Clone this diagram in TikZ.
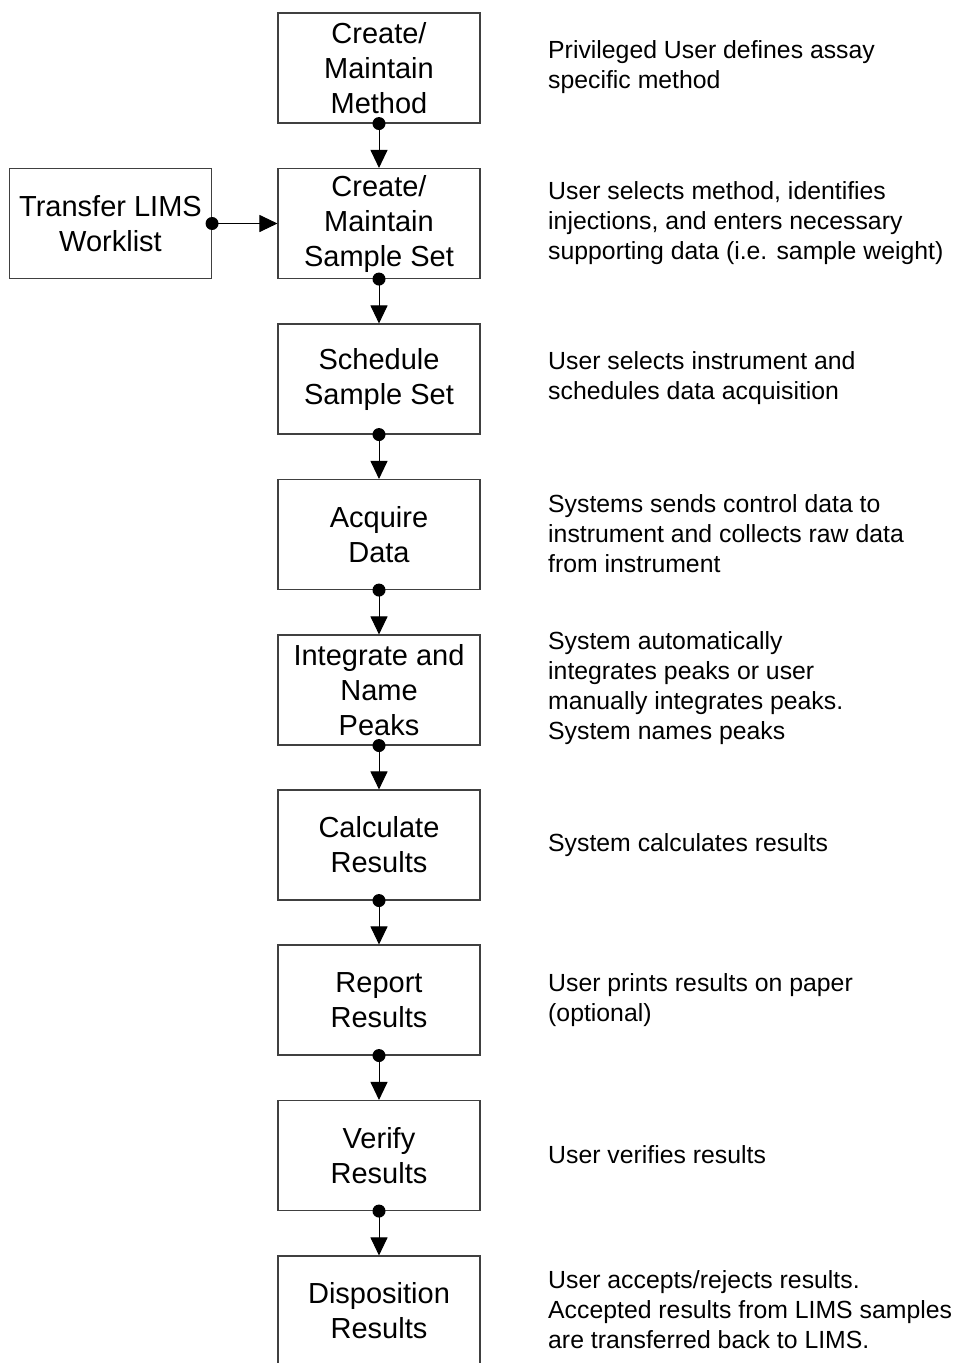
\documentclass[tikz,border=0pt]{standalone}
\usepackage{fontspec}
\setmainfont{Liberation Sans}
\usetikzlibrary{arrows.meta}
\begin{document}
\begin{tikzpicture}[x=1pt,y=-1pt,
  stepbox/.style={draw=black!75,line width=1.1pt,minimum width=202pt,minimum height=110pt,inner sep=0pt,align=center,font=\fontsize{29}{35}\selectfont},
  desc/.style={anchor=west,align=left,inner sep=0pt,font=\fontsize{24.8}{30}\selectfont},
  conn/.style={line width=1pt,-{Triangle[length=18pt,width=17pt]}},
  dotc/.style={fill=black}]
\useasboundingbox (0,0) rectangle (961,1363);
\clip (0,0) rectangle (961,1363);
\node[stepbox] (m1) at (379,68) {Create/\\Maintain\\Method};
\node[stepbox] (m2) at (379,223.5) {Create/\\Maintain\\Sample Set};
\node[stepbox] (m3) at (379,379) {Schedule\\Sample Set};
\node[stepbox] (m4) at (379,534.5) {Acquire\\Data};
\node[stepbox] (m5) at (379,690) {Integrate and\\Name\\Peaks};
\node[stepbox] (m6) at (379,845) {Calculate\\Results};
\node[stepbox] (m7) at (379,1000) {Report\\Results};
\node[stepbox] (m8) at (379,1155.5) {Verify\\Results};
\node[stepbox] (m9) at (379,1311) {Disposition\\Results};
\node[stepbox] (lims) at (110.5,223.5) {Transfer LIMS\\Worklist};

\node[desc] (d1) at (548,67) {Privileged User defines assay\\specific method};
\node[desc] (d2) at (548,223) {User selects method, identifies\\injections, and enters necessary\\supporting data (i.e. sample weight)};
\node[desc] (d3) at (548,378) {User selects instrument and\\schedules data acquisition};
\node[desc] (d4) at (548,534) {Systems sends control data to\\instrument and collects raw data\\from instrument};
\node[desc] (d5) at (548,688) {System automatically\\integrates peaks or user\\manually integrates peaks.\\System names peaks};
\node[desc] (d6) at (548,845) {System calculates results};
\node[desc] (d7) at (548,1000) {User prints results on paper\\(optional)};
\node[desc] (d8) at (548,1155) {User verifies results};
\node[desc] (d9) at (548,1310) {User accepts/rejects results.\\Accepted results from LIMS samples\\are transferred back to LIMS.};

\foreach \a/\b in {m1/m2,m2/m3,m3/m4,m4/m5,m5/m6,m6/m7,m7/m8,m8/m9}{
  \draw[conn] (\a.south) -- (\b.north);
  \fill[dotc] (\a.south) circle (6.5pt);
}
\draw[conn] (lims.east) -- (m2.west);
\fill[dotc] (lims.east) circle (6.5pt);
\end{tikzpicture}
\end{document}
